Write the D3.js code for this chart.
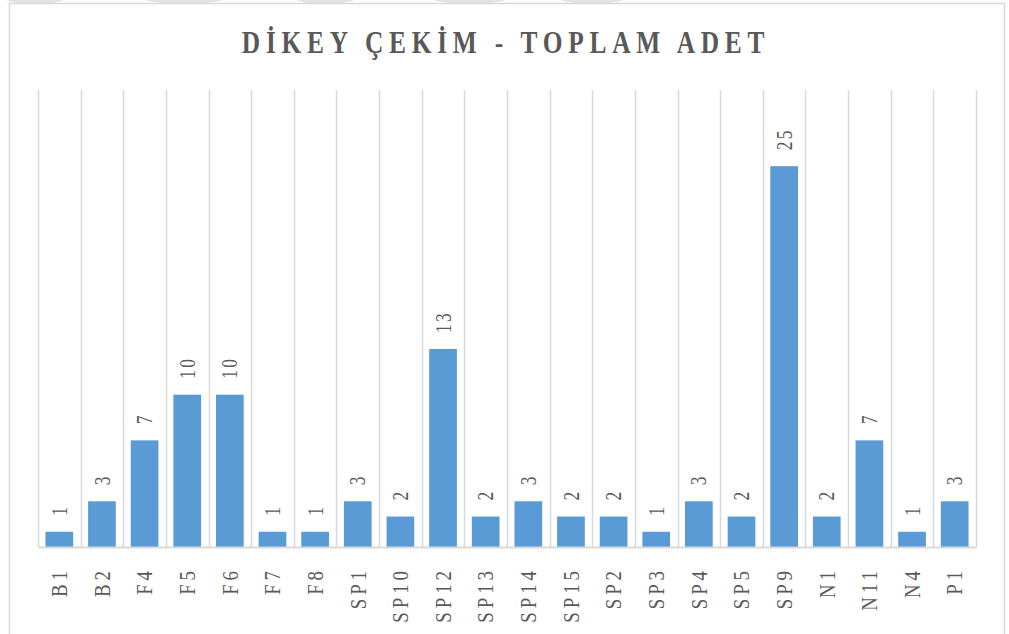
<!DOCTYPE html>
<html>
<head>
<meta charset="utf-8">
<script src="https://cdn.jsdelivr.net/npm/d3@7/dist/d3.min.js"></script>
<style>
  html, body { margin: 0; padding: 0; background: #fff; }
  svg { display: block; }
</style>
</head>
<body>
<svg id="chart" width="1009" height="634"></svg>
<script>
// Vertical pull counts per item
const categories = ["B1","B2","F4","F5","F6","F7","F8","SP1","SP10","SP12","SP13","SP14","SP15","SP2","SP3","SP4","SP5","SP9","N1","N11","N4","P1"];
const values = [1,3,7,10,10,1,1,3,2,13,2,3,2,2,1,3,2,25,2,7,1,3];
const titleText = "DİKEY ÇEKİM - TOPLAM ADET";
const yMax = 30;

const W = 1009, H = 634;
const margin = { left: 38, right: 33, top: 90, bottom: 87 };
const svg = d3.select("#chart");
const font = "'Liberation Serif', 'Times New Roman', serif";
const textColor = "#595959";
const lineColor = "#d9d9d9";

// faint shapes along the top edge of the page
const topShapes = [[35, 28], [184, 38], [325, 28], [470, 35], [592, 30]];
svg.selectAll("ellipse.top").data(topShapes).enter().append("ellipse")
  .attr("cx", d => d[0]).attr("cy", 0)
  .attr("rx", d => d[1]).attr("ry", 3.5)
  .attr("fill", "#e3e3e3");

// chart frame
svg.append("rect")
  .attr("x", 9.5).attr("y", 3.5)
  .attr("width", 995).attr("height", 640)
  .attr("fill", "#fff")
  .attr("stroke", lineColor).attr("stroke-width", 1.5);

// title, set in a condensed, widely tracked serif
svg.append("text")
  .attr("transform", "translate(506,53) scale(0.82,1)")
  .attr("text-anchor", "middle")
  .attr("font-family", font)
  .attr("font-weight", "bold")
  .attr("font-size", 31)
  .attr("letter-spacing", 7)
  .attr("fill", textColor)
  .text(titleText);

const x = d3.scaleBand()
  .domain(categories)
  .range([margin.left, W - margin.right])
  .paddingInner(0.35).paddingOuter(0.175);

const xBand = d3.scaleBand()
  .domain(categories)
  .range([margin.left, W - margin.right]);

const y = d3.scaleLinear()
  .domain([0, yMax])
  .range([H - margin.bottom, margin.top]);

// category separators
const g = svg.append("g");
const edges = categories.map(c => xBand(c)).concat([W - margin.right]);
g.selectAll("line.sep").data(edges).enter().append("line")
  .attr("class", "sep")
  .attr("x1", d => Math.round(d) + 0.5).attr("x2", d => Math.round(d) + 0.5)
  .attr("y1", margin.top).attr("y2", H - margin.bottom)
  .attr("stroke", lineColor).attr("stroke-width", 1.5);

// bars
g.selectAll("rect.bar").data(values).enter().append("rect")
  .attr("class", "bar")
  .attr("x", (d, i) => x(categories[i]))
  .attr("width", x.bandwidth())
  .attr("y", d => y(d))
  .attr("height", d => y(0) - y(d))
  .attr("fill", "#5b9bd5");

// baseline axis with rotated category names
const xAxis = d3.axisBottom(xBand).tickSize(0).tickPadding(0);
const axisG = svg.append("g")
  .attr("transform", `translate(0,${H - margin.bottom})`)
  .call(xAxis);
axisG.select(".domain")
  .attr("stroke", lineColor).attr("stroke-width", 2);
axisG.selectAll(".tick text")
  .attr("font-family", font)
  .attr("font-size", 23.5)
  .attr("letter-spacing", 5)
  .attr("fill", textColor)
  .attr("text-anchor", "end")
  .attr("dy", "0.33em")
  .attr("transform", "translate(0,20) rotate(-90) scale(0.8,1)")
  .attr("x", 0).attr("y", 0);

// value labels above bars
g.selectAll("text.val").data(values).enter().append("text")
  .attr("class", "val")
  .attr("font-family", font)
  .attr("font-size", 23)
  .attr("letter-spacing", 3)
  .attr("fill", textColor)
  .attr("text-anchor", "start")
  .attr("dy", "0.33em")
  .attr("transform", (d, i) => `translate(${xBand(categories[i]) + xBand.bandwidth() / 2},${y(d) - 16}) rotate(-90) scale(0.76,1)`)
  .text(d => d);
</script>
</body>
</html>
